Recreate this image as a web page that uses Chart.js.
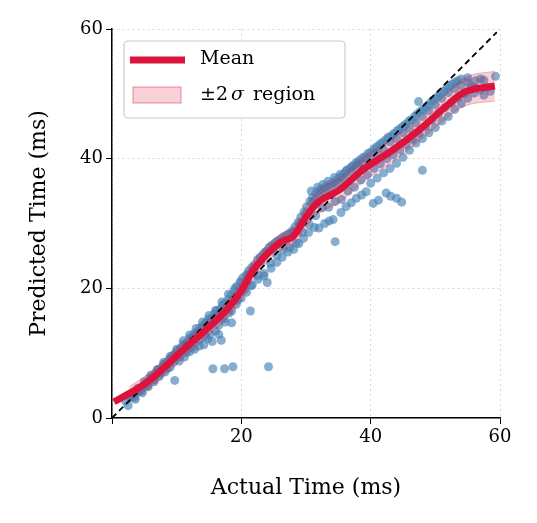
<!DOCTYPE html>
<html>
<head>
<meta charset="utf-8">
<script src="https://cdn.jsdelivr.net/npm/chart.js@4"></script>
<style>
  body { margin: 0; background: #fff; }
  #wrap { width: 537px; height: 523px; }
</style>
</head>
<body>
<div id="wrap"><canvas id="chart"></canvas></div>
<script>
// points lying along / above the mean
const upperX = [2.1,2.8,3.3,3.9,4.4,4.9,5.3,5.8,6.2,6.7,7.1,7.6,8.0,8.4,8.9,9.3,9.7,10.1,10.6,11.0,11.4,11.9,12.3,12.7,13.2,13.6,14.0,14.5,14.9,15.3,15.8,16.2,16.7,17.1,17.5,18.0,18.4,18.9,19.3,19.8,20.2,20.7,21.1,21.6,22.0,22.5,22.9,23.4,23.8,24.3,24.7,25.2,25.6,26.1,26.5,27.0,27.4,27.9,28.3,28.8,29.2,29.7,30.1,30.6,31.0,31.5,31.9,32.4,32.8,33.3,33.7,34.2,34.6,35.1,35.5,36.0,36.4,36.9,37.3,37.8,38.2,38.7,39.1,39.6,40.0,40.5,40.9,41.4,41.8,42.3,42.7,43.2,43.6,44.1,44.5,45.0,45.4,45.9,46.3,46.8,47.2,47.7,48.1,48.6,49.0,49.5,49.9,50.4,50.8,51.3,51.7,52.2,52.6,53.1,53.5,54.0,55.0,56.2,57.5,59.3];
const upperY = [2.6,3.1,3.4,4.0,4.6,5.0,5.4,6.1,6.3,6.9,7.4,7.7,8.3,8.5,9.1,9.6,9.9,10.4,10.8,11.3,11.5,12.2,12.5,13.0,13.3,13.9,14.2,14.7,15.2,15.4,16.0,16.5,16.8,17.4,17.7,18.3,18.9,19.6,20.3,21.0,21.6,22.0,22.7,23.2,23.6,24.4,24.8,25.3,25.7,26.3,26.6,27.0,27.3,27.6,27.9,28.2,28.5,28.9,29.5,30.2,31.0,31.8,32.6,33.4,34.0,34.6,35.0,35.3,35.5,35.8,36.0,36.3,36.6,37.0,37.3,37.8,38.3,38.6,39.0,39.4,39.7,40.1,40.3,40.8,41.0,41.5,41.8,42.2,42.5,42.9,43.3,43.5,43.9,44.3,44.6,45.0,45.3,45.8,46.0,46.5,46.9,47.3,47.6,48.0,48.4,48.9,49.2,49.6,50.0,50.4,50.8,51.2,51.5,51.8,52.0,52.3,52.5,52.0,52.1,52.7];
// points inside the band
const midX = [3.0,3.5,4.0,4.5,5.0,5.5,6.0,6.5,7.0,7.5,8.0,8.5,9.0,9.5,10.0,10.5,11.0,11.5,12.0,12.5,13.0,13.5,14.0,14.5,15.0,15.5,16.0,16.5,17.0,17.5,18.0,18.5,19.0,19.5,20.0,20.5,21.0,21.5,22.0,22.5,23.0,23.5,24.0,24.5,25.0,25.5,26.0,26.5,27.0,27.5,28.0,28.5,29.0,29.5,30.0,30.5,31.0,31.5,32.0,32.5,33.0,33.5,34.0,34.5,35.0,35.5,36.0,36.5,37.0,37.5,38.0,38.5,39.0,39.5,40.0,40.5,41.0,41.5,42.0,42.5,43.0,43.5,44.0,44.5,45.0,45.5,46.0,46.5,47.0,47.5,48.0,48.5,49.0,49.5,50.0,50.5,51.0,51.5,52.0,52.5,53.0,53.5,54.0,54.5,55.0,56.0,57.0,30.8,31.8,32.6,33.4,34.4,35.3,36.2,37.1,38.0];
const midY = [3.5,3.2,4.6,4.1,5.6,5.0,6.6,5.9,7.5,6.8,8.6,7.6,9.5,8.6,10.6,9.4,11.9,10.1,12.8,10.9,13.8,12.0,14.8,12.6,15.8,11.8,16.6,12.9,17.9,14.8,19.1,16.5,20.0,18.2,20.9,19.8,22.2,20.4,23.0,22.0,24.1,21.9,25.6,23.9,26.3,25.1,27.1,26.0,27.5,26.3,28.6,27.0,30.0,28.6,31.5,29.9,33.4,31.2,34.2,32.4,34.8,32.5,35.6,33.4,36.2,33.7,36.9,35.0,37.9,35.6,38.8,36.7,39.2,37.5,40.0,38.5,40.8,39.2,41.4,40.0,42.6,40.6,43.1,41.4,44.0,42.2,44.6,43.0,45.5,43.9,46.5,45.0,47.4,46.0,48.3,47.0,49.3,47.9,50.2,48.6,50.8,49.3,51.3,50.0,51.8,51.0,52.3,35.0,35.6,36.0,36.5,37.1,37.6,38.1,38.7,39.3];
// points below the mean, incl. outliers
const lowerX = [2.5,3.6,4.7,5.6,6.5,7.3,8.2,9.0,9.7,10.4,11.2,12.0,12.8,13.5,14.2,14.8,15.6,15.2,16.0,16.9,16.5,17.4,18.7,17.3,18.1,18.5,19.2,20.0,20.8,21.4,21.7,22.6,23.5,24.2,24.0,24.6,25.5,26.3,27.2,28.1,28.9,29.6,30.4,31.3,32.0,32.9,33.6,34.2,34.5,35.4,36.2,37.0,37.8,38.6,39.3,40.4,41.2,42.4,43.1,44.0,44.8,40.0,41.0,42.0,43.0,44.0,45.0,46.0,48.0,47.0,48.0,49.0,50.0,51.0,52.0,47.4,53.0,54.0,55.0,56.0,57.0,58.0,58.5,57.5,55.5];
const lowerY = [1.9,2.9,3.9,4.8,5.6,6.4,7.1,7.8,5.8,8.8,9.4,10.2,10.6,11.1,11.3,12.2,7.6,12.9,13.4,12.0,14.3,7.6,7.9,15.3,16.2,14.7,17.5,18.5,19.4,16.5,20.5,21.4,22.3,7.9,20.9,23.1,24.0,24.8,25.6,26.0,26.9,27.7,28.6,29.4,29.3,30.0,30.4,30.6,27.2,31.7,32.6,33.2,33.9,34.4,34.9,33.1,33.6,34.7,34.2,33.9,33.3,36.2,37.0,37.8,38.5,39.3,40.2,41.3,38.2,42.4,43.1,44.0,44.8,45.8,46.5,48.8,47.6,48.5,49.3,50.1,50.6,51.0,50.4,49.8,51.2];

// mean curve and +-2 sigma band
const meanX = [0.3,2.7,5.8,11,17.2,19.7,22.3,25.9,28,30,32,35.2,38.8,43.5,47.6,51.7,54.8,59.2];
const meanY = [2.5,3.8,5.8,10.5,16.1,19.2,23.4,27,28,31,33.4,35.2,38.3,41.4,44.5,48.1,50.4,51.2];
const bandLow = [1.8,2.8,4.6,9.3,14.8,17.8,22.0,25.7,26.7,29.4,31.6,33.3,36.4,39.6,42.8,46.2,48.2,48.9];
const bandHigh = [3.2,4.8,7.0,11.7,17.4,20.6,24.8,28.3,29.3,32.6,35.2,37.1,40.2,43.2,46.2,50.0,52.6,53.5];

const xTicks = [0, 20, 40, 60];
const yTicks = [0, 20, 40, 60];

const zip = (xs, ys) => xs.map((x, i) => ({ x: x, y: ys[i] }));

const serif = "'DejaVu Serif', serif";
const crimson = "#DC143C";

const legendPlugin = {
  id: "boxLegend",
  afterDraw(chart) {
    const ctx = chart.ctx;
    ctx.save();
    ctx.beginPath();
    ctx.roundRect(124, 41, 221, 77, 4);
    ctx.fillStyle = "rgba(255,255,255,0.85)";
    ctx.fill();
    ctx.strokeStyle = "#cccccc";
    ctx.lineWidth = 1.2;
    ctx.stroke();
    ctx.strokeStyle = crimson;
    ctx.lineWidth = 7;
    ctx.beginPath();
    ctx.moveTo(130, 60);
    ctx.lineTo(185, 60);
    ctx.stroke();
    ctx.fillStyle = "rgba(220,20,60,0.2)";
    ctx.strokeStyle = "rgba(220,20,60,0.3)";
    ctx.lineWidth = 1.5;
    ctx.fillRect(133, 87, 48, 16);
    ctx.strokeRect(133, 87, 48, 16);
    ctx.fillStyle = "#000";
    ctx.font = "19px " + serif;
    ctx.textBaseline = "middle";
    ctx.fillText("Mean", 200, 59);
    ctx.fillText("\u00b12", 200, 95);
    ctx.font = "italic 19px " + serif;
    ctx.fillText("\u03c3", 231, 95);
    ctx.font = "19px " + serif;
    ctx.fillText("region", 253, 95);
    ctx.restore();
  }
};

const tickFont = { family: serif, size: 18 };
const titleFont = { family: serif, size: 22 };

new Chart(document.getElementById("chart"), {
  type: "scatter",
  data: {
    datasets: [
      {
        label: "ideal",
        type: "line",
        data: [{ x: 0, y: 0 }, { x: 59.5, y: 59.5 }],
        borderColor: "#000",
        borderWidth: 1.8,
        borderDash: [6, 4],
        pointRadius: 0,
        order: 1,
      },
      {
        label: "points",
        data: zip(upperX, upperY).concat(zip(midX, midY), zip(lowerX, lowerY)),
        backgroundColor: "rgba(70,130,180,0.65)",
        borderWidth: 0,
        pointRadius: 4.5,
        order: 4,
      },
      {
        label: "low",
        type: "line",
        data: zip(meanX.slice(1), bandLow.slice(1)),
        borderColor: "rgba(220,20,60,0.3)",
        borderWidth: 1,
        pointRadius: 0,
        tension: 0.4,
        fill: false,
        order: 3,
      },
      {
        label: "band",
        type: "line",
        data: zip(meanX.slice(1), bandHigh.slice(1)),
        borderColor: "rgba(220,20,60,0.3)",
        backgroundColor: "rgba(220,20,60,0.2)",
        borderWidth: 1,
        pointRadius: 0,
        tension: 0.4,
        fill: "-1",
        order: 2,
      },
      {
        label: "Mean",
        type: "line",
        data: zip(meanX, meanY),
        borderColor: crimson,
        borderWidth: 7,
        pointRadius: 0,
        tension: 0.4,
        order: 0,
      },
    ],
  },
  options: {
    responsive: true,
    maintainAspectRatio: false,
    animation: false,
    layout: { padding: { top: 29, right: 37, left: 22, bottom: 18 } },
    plugins: { legend: { display: false }, tooltip: { enabled: false } },
    scales: {
      x: {
        type: "linear",
        min: 0,
        max: 60,
        afterFit(s) { s.height = 87; },
        afterBuildTicks(s) { s.ticks = xTicks.map(v => ({ value: v })); },
        ticks: {
          font: tickFont,
          color: "#000",
          callback: v => (v === 0 ? "" : v),
        },
        grid: { color: "rgba(0,0,0,0.15)", tickColor: "#000", tickLength: 6, tickBorderDash: [] },
        border: { color: "#000", width: 1.5, dash: [2, 3] },
        title: { display: true, text: "Actual Time (ms)", font: titleFont, color: "#000", padding: { top: 0 } },
      },
      y: {
        min: 0,
        max: 60,
        afterFit(s) { s.width = 90; },
        afterBuildTicks(s) { s.ticks = yTicks.map(v => ({ value: v })); },
        ticks: { font: tickFont, color: "#000" },
        grid: { color: "rgba(0,0,0,0.15)", tickColor: "#000", tickLength: 6, tickBorderDash: [] },
        border: { color: "#000", width: 1.5, dash: [2, 3] },
        title: { display: true, text: "Predicted Time (ms)", font: titleFont, color: "#000" },
      },
    },
  },
  plugins: [legendPlugin],
});
</script>
</body>
</html>
